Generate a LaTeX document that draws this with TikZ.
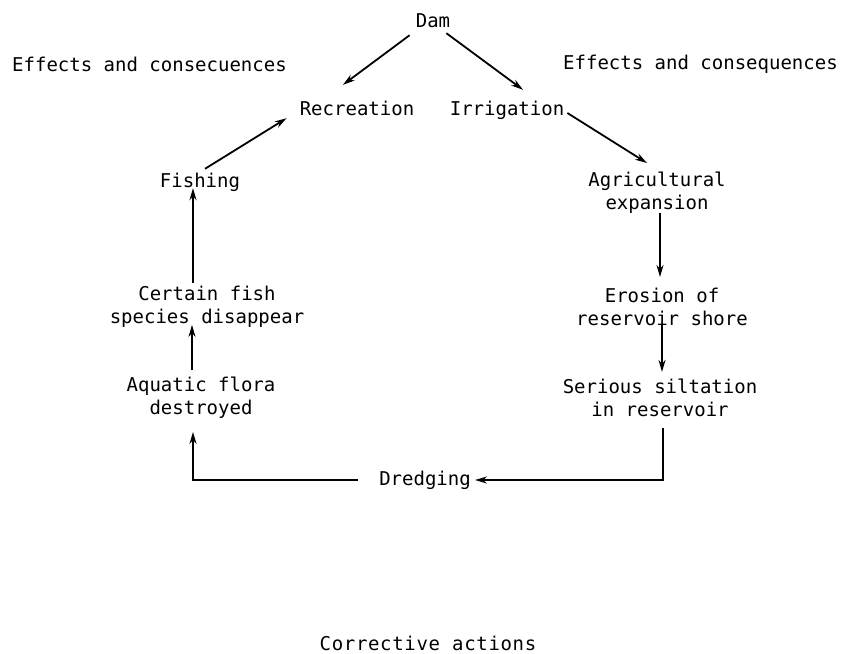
\documentclass[tikz,border=0pt]{standalone}
\usepackage{fontspec}
\newfontfamily\diagfont{DejaVu Sans Mono}
\usepackage{tikz}
\usetikzlibrary{arrows.meta,calc}

\begin{document}
\begin{tikzpicture}[x=1pt,y=-1pt,
  lbl/.style={inner sep=0pt,font=\diagfont\fontsize{19}{23}\selectfont},
  one/.style={lbl,text height=14pt,text depth=4pt},
  two/.style={lbl,align=center},
  arr/.style={line width=1.8pt,-{Stealth[length=12pt,width=7pt]}}]
  \useasboundingbox (0,0) rectangle (842,653);
  % top
  \node[one] (dam) at (433,22) {Dam};
  \node[one,anchor=west] (effl) at (12,66) {Effects and consecuences};
  \node[one,anchor=west] (effr) at (563,64) {Effects and consequences};
  \node[one] (recr) at (357,110) {Recreation};
  \node[one] (irrig) at (507,110) {Irrigation};
  % left column
  \node[one] (fish) at (200,182) {Fishing};
  \node[two] (certain) at (207,307) {Certain fish\\species disappear};
  \node[two] (aquatic) at (201,398) {Aquatic flora\\destroyed};
  % right column
  \node[two] (agri) at (657,193) {Agricultural\\expansion};
  \node[two] (erosion) at (662,307) {Erosion of\\reservoir shore};
  \node[two] (serious) at (660,398) {Serious siltation\\in reservoir};
  % bottom
  \node[one] (dredg) at (425,480) {Dredging};
  \node[lbl] (corr) at (428,643) {\addfontfeature{LetterSpace=3.5}Corrective actions};

  \draw[arr] ($(dam.south west)+(-6,4)$) -- ($(recr.north)+(-14,-16)$);
  \draw[arr] ($(dam.south east)+(-4,2)$) -- ($(irrig.north)+(16,-11)$);
  \draw[arr] ($(irrig.east)+(3,3)$) -- ($(agri.north)+(-10,-9)$);
  \draw[arr] ($(fish.north)+(5,-4)$) -- ($(recr.south west)+(-13,-1)$);
  \draw[arr] ($(certain.north)+(-14,-3)$) -- ($(fish.south)+(-7,-3)$);
  \draw[arr] ($(aquatic.north)+(-9,-7)$) -- ($(certain.south)+(-15,-3)$);
  \draw[arr] ($(agri.south)+(3,-1)$) -- ($(erosion.north)+(-2,-11)$);
  \draw[arr] ($(erosion.south)+(0,-1)$) -- ($(serious.north)+(2,-7)$);
  \draw[arr] ($(serious.south)+(3,11)$) |- ($(dredg.east)+(4,0)$);
  \draw[arr] ($(dredg.west)+(-21,0)$) -| ($(aquatic.south)+(-8,13)$);
\end{tikzpicture}
\end{document}
